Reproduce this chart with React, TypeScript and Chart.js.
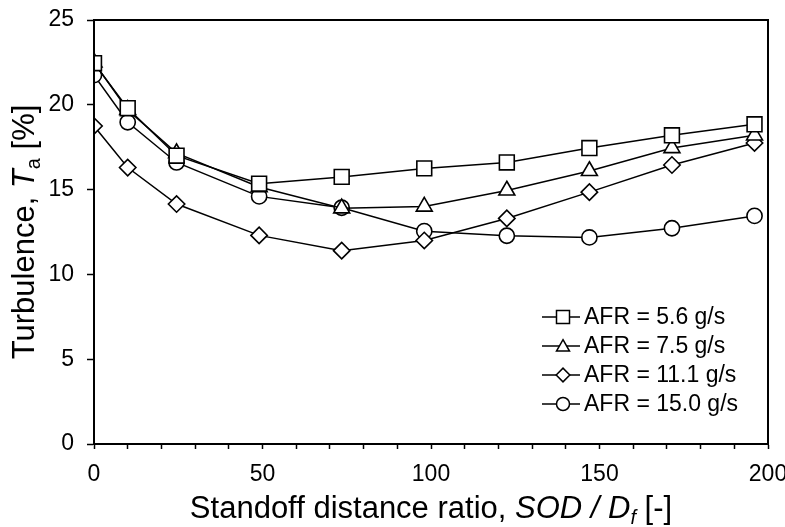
import React, { useEffect, useRef } from "react";
import { Chart, registerables } from "chart.js";

Chart.register(...registerables);

const xValues = [0, 10, 24.5, 49, 73.5, 98, 122.5, 147, 171.5, 196];
const afr56 = [22.45, 19.8, 17.0, 15.35, 15.75, 16.25, 16.6, 17.45, 18.2, 18.85];
const afr75 = [22.5, 19.7, 17.15, 15.15, 13.9, 14.0, 14.95, 16.1, 17.45, 18.2];
const afr111 = [18.75, 16.3, 14.15, 12.3, 11.4, 12.0, 13.3, 14.85, 16.45, 17.75];
const afr150 = [21.75, 18.97, 16.6, 14.6, 13.93, 12.55, 12.28, 12.18, 12.72, 13.45];
const seriesLabels = ["AFR = 5.6 g/s", "AFR = 7.5 g/s", "AFR = 11.1 g/s", "AFR = 15.0 g/s"];
const seriesStyles = ["rect", "triangle", "rectRot", "circle"];
const xTickLabels = [0, 50, 100, 150, 200];
const yTickLabels = [0, 5, 10, 15, 20, 25];

const FONT = "Arial, 'Liberation Sans', sans-serif";

type Seg = { t: string; it?: boolean; sub?: boolean };

function drawRich(ctx: CanvasRenderingContext2D, segs: Seg[], cx: number, y: number, size: number) {
  const fontFor = (s: Seg) =>
    `${s.it ? "italic " : ""}${s.sub ? Math.round(size * 0.65) : size}px ${FONT}`;
  let total = 0;
  for (const s of segs) {
    ctx.font = fontFor(s);
    total += ctx.measureText(s.t).width;
  }
  let x = cx - total / 2;
  ctx.textAlign = "left";
  ctx.textBaseline = "alphabetic";
  for (const s of segs) {
    ctx.font = fontFor(s);
    ctx.fillText(s.t, x, y + (s.sub ? size * 0.2 : 0));
    x += ctx.measureText(s.t).width;
  }
}

function drawMarker(ctx: CanvasRenderingContext2D, style: string, x: number, y: number, s: number) {
  ctx.beginPath();
  if (style === "rect") {
    ctx.rect(x - s, y - s, 2 * s, 2 * s);
  } else if (style === "triangle") {
    const h = s * 1.75;
    ctx.moveTo(x, y - h * 0.55);
    ctx.lineTo(x + s * 1.0, y + h * 0.45);
    ctx.lineTo(x - s * 1.0, y + h * 0.45);
    ctx.closePath();
  } else if (style === "rectRot") {
    ctx.moveTo(x - s * 1.05, y);
    ctx.lineTo(x, y - s * 1.05);
    ctx.lineTo(x + s * 1.05, y);
    ctx.lineTo(x, y + s * 1.05);
    ctx.closePath();
  } else {
    ctx.arc(x, y, s, 0, Math.PI * 2);
  }
  ctx.fillStyle = "#fff";
  ctx.fill();
  ctx.lineWidth = 1.5;
  ctx.strokeStyle = "#000";
  ctx.stroke();
}

const decorPlugin = {
  id: "decor",
  afterDraw(chart: any) {
    const ctx: CanvasRenderingContext2D = chart.ctx;
    const a = chart.chartArea;
    ctx.save();
    // frame
    ctx.strokeStyle = "#000";
    ctx.lineWidth = 2;
    ctx.strokeRect(a.left, a.top, a.right - a.left, a.bottom - a.top);
    ctx.fillStyle = "#000";
    // x title
    drawRich(
      ctx,
      [
        { t: "Standoff distance ratio, " },
        { t: "SOD / D", it: true },
        { t: "f", it: true, sub: true },
        { t: " [-]" },
      ],
      (a.left + a.right) / 2,
      518,
      31
    );
    // y title
    ctx.save();
    ctx.translate(34, (a.top + a.bottom) / 2);
    ctx.rotate(-Math.PI / 2);
    drawRich(
      ctx,
      [{ t: "Turbulence, " }, { t: "T", it: true }, { t: "a", sub: true }, { t: " [%]" }],
      0,
      0,
      31
    );
    ctx.restore();
    // legend
    const lx0 = a.right - 226;
    const lx1 = a.right - 188;
    const mx = a.right - 205;
    const tx = a.right - 184;
    const rowY = [317, 346, 375, 404];
    chart.data.datasets.forEach((ds: any, i: number) => {
      const y = rowY[i];
      ctx.beginPath();
      ctx.moveTo(lx0, y);
      ctx.lineTo(lx1, y);
      ctx.lineWidth = 1.5;
      ctx.strokeStyle = "#000";
      ctx.stroke();
      drawMarker(ctx, seriesStyles[i], mx, y, 6.5);
      ctx.fillStyle = "#000";
      ctx.font = `23px ${FONT}`;
      ctx.textAlign = "left";
      ctx.textBaseline = "middle";
      ctx.fillText(ds.label, tx, y + 1);
    });
    ctx.restore();
  },
};

export default function App() {
  const ref = useRef<HTMLCanvasElement | null>(null);
  useEffect(() => {
    if (!ref.current) return;
    const series = [afr56, afr75, afr111, afr150];
    const radii = [10.5, 9.2, 8.2, 7.6];
    const chart = new Chart(ref.current, {
      type: "line",
      data: {
        datasets: series.map((vals, i) => ({
          label: seriesLabels[i],
          data: xValues.map((x, j) => ({ x, y: vals[j] })),
          borderColor: "#000",
          borderWidth: 1.5,
          pointStyle: seriesStyles[i] as any,
          pointRadius: radii[i],
          pointHoverRadius: radii[i],
          pointBackgroundColor: "#fff",
          pointBorderColor: "#000",
          pointBorderWidth: 1.6,
          tension: 0,
          fill: false,
        })),
      },
      options: {
        responsive: false,
        animation: false,
        events: [],
        layout: { padding: { top: 20, right: 17, left: 0, bottom: 0 } },
        plugins: { legend: { display: false }, tooltip: { enabled: false } },
        scales: {
          x: {
            type: "linear",
            min: 0,
            max: 200,
            afterFit: (s: any) => {
              s.height = 83;
              s.paddingLeft = 0;
              s.paddingRight = 0;
              s.paddingTop = 0;
              s.paddingBottom = 0;
            },
            border: { display: true, color: "#000", width: 2 },
            grid: { drawOnChartArea: false, drawTicks: true, tickLength: 5, color: "#000", tickWidth: 1.5 },
            ticks: {
              stepSize: 10,
              autoSkip: false,
              maxRotation: 0,
              padding: 12,
              color: "#000",
              font: { family: FONT, size: 23 },
              callback: (v: any) => (xTickLabels.includes(Number(v)) ? String(v) : ""),
            },
          },
          y: {
            type: "linear",
            min: 0,
            max: 25,
            afterFit: (s: any) => {
              s.width = 94;
              s.paddingLeft = 0;
              s.paddingRight = 0;
              s.paddingTop = 0;
              s.paddingBottom = 0;
            },
            border: { display: true, color: "#000", width: 2 },
            grid: { drawOnChartArea: false, drawTicks: true, tickLength: 7, color: "#000", tickWidth: 1.5 },
            ticks: {
              stepSize: 5,
              padding: 13,
              color: "#000",
              font: { family: FONT, size: 23 },
              callback: (v: any) => (yTickLabels.includes(Number(v)) ? String(v) : ""),
            },
          },
        },
      },
      plugins: [decorPlugin],
    });
    return () => chart.destroy();
  }, []);
  return (
    <div style={{ position: "fixed", left: 0, top: 0, width: 785, height: 527, background: "#fff" }}>
      <canvas ref={ref} width={785} height={527} style={{ width: 785, height: 527, display: "block" }} />
    </div>
  );
}
